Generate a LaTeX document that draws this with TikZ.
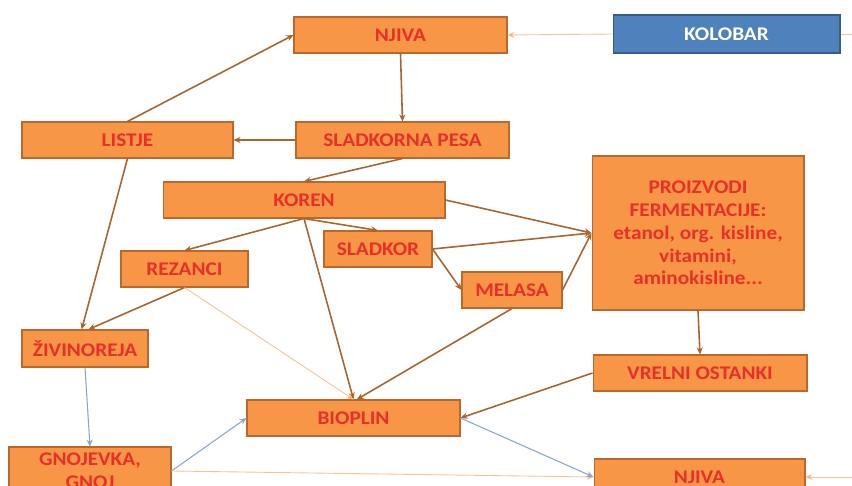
\documentclass[tikz,border=0pt]{standalone}
\usepackage{fontspec}
\setmainfont{Carlito}[FakeStretch=1.1]
\usepackage{tikz}
\usetikzlibrary{arrows.meta}
\definecolor{boxorange}{HTML}{F79646}
\definecolor{boxedge}{HTML}{B9692C}
\definecolor{textred}{HTML}{E8302A}
\definecolor{rotblue}{HTML}{4F81BD}
\definecolor{rotedge}{HTML}{385D8A}
\definecolor{brownline}{HTML}{A5662F}
\definecolor{blueline}{HTML}{8AA6CB}
\colorlet{paleline}{boxorange!60!white}

\begin{document}
\begin{tikzpicture}[x=0.02cm, y=-0.02cm,
    box/.style={draw=boxedge, fill=boxorange, line width=0.6pt, text=textred,
        font=\bfseries\fontsize{11}{13}\selectfont, align=center, inner sep=0pt},
    flow/.style={brownline, line width=0.9pt, -{Stealth[length=4pt, width=3.5pt]}},
    faint/.style={paleline, line width=0.5pt, -{Stealth[length=4pt, width=3.5pt, fill=boxedge]}},
    bluish/.style={blueline, line width=0.6pt, -{Stealth[length=4pt, width=3.5pt, fill=rotedge]}}]
    \useasboundingbox (0, 0) rectangle (852, 486);
    \clip (0, 0) rectangle (852, 486);

    % boxes
    \node[box, minimum width=4.26cm, minimum height=0.72cm] (njiva) at (400.5, 35) {NJIVA};
    \node[box, draw=rotedge, fill=rotblue, text=white, minimum width=4.54cm, minimum height=0.76cm] (kolobar) at (726.5, 34) {KOLOBAR};
    \node[box, minimum width=4.22cm, minimum height=0.72cm] (listje) at (127.5, 140) {LISTJE};
    \node[box, minimum width=4.26cm, minimum height=0.72cm] (pesa) at (402.5, 140) {SLADKORNA PESA};
    \node[box, minimum width=5.64cm, minimum height=0.72cm] (koren) at (304, 200) {KOREN};
    \node[box, minimum width=2.16cm, minimum height=0.72cm] (sladkor) at (378, 249) {SLADKOR};
    \node[box, minimum width=2.54cm, minimum height=0.72cm] (rezanci) at (184.5, 269) {REZANCI};
    \node[box, minimum width=2.52cm, minimum height=0.74cm] (zivinoreja) at (85, 348.5) {ŽIVINOREJA};
    \node[box, minimum width=2.00cm, minimum height=0.72cm] (melasa) at (512, 290) {MELASA};
    \node[box, minimum width=4.24cm, minimum height=3.08cm] (proizvodi) at (698, 233)
        {PROIZVODI\\ FERMENTACIJE:\\ etanol, org. kisline,\\ vitamini,\\ aminokisline...};
    \node[box, minimum width=4.28cm, minimum height=0.72cm] (vrelni) at (700, 373) {VRELNI OSTANKI};
    \node[box, minimum width=4.26cm, minimum height=0.72cm] (bioplin) at (353.5, 418) {BIOPLIN};
    \node[box, minimum width=3.24cm, minimum height=0.96cm] (gnojevka) at (90, 471) {GNOJEVKA,\\ GNOJ};
    \node[box, minimum width=4.22cm, minimum height=0.72cm] (njivb) at (699.5, 477) {NJIVA};
    \coordinate (rimtop) at (852, 34);
    \coordinate (rimbot) at (852, 477);

    % connectors
    \draw[faint] (kolobar.west) to (njiva.east);
    \draw[paleline, line width=0.5pt] (kolobar.east) to (rimtop);
    \draw[faint] (rimbot) to (njivb.east);
    \draw[flow] (njiva.south) to (pesa.north);
    \draw[flow] (pesa.west) to (listje.east);
    \draw[flow] (listje.north) to (njiva.west);
    \draw[flow] (pesa.south) to (koren.north);
    \draw[flow] (listje.south) to (zivinoreja.100);
    \draw[flow] (koren.south) to (rezanci.north);
    \draw[flow] (koren.south) to (sladkor.north);
    \draw[flow] (koren.south) to (bioplin.north);
    \draw[flow] (koren.east) to (proizvodi.west);
    \draw[flow] (sladkor.east) to (proizvodi.west);
    \draw[flow] (melasa.east) to (proizvodi.west);
    \draw[flow] (sladkor.east) to (melasa.west);
    \draw[flow] (melasa.south) to (bioplin.80);
    \draw[flow] (rezanci.south) to (zivinoreja.80);
    \draw[faint] (rezanci.south) to (bioplin.north);
    \draw[flow] (proizvodi.south) to (vrelni.north);
    \draw[flow] (vrelni.west) to (bioplin.east);
    \draw[bluish] (zivinoreja.south) to (gnojevka.north);
    \draw[bluish] (gnojevka.east) to (bioplin.west);
    \draw[faint] (gnojevka.east) to (njivb.west);
    \draw[bluish] (bioplin.east) to (njivb.west);
\end{tikzpicture}
\end{document}
